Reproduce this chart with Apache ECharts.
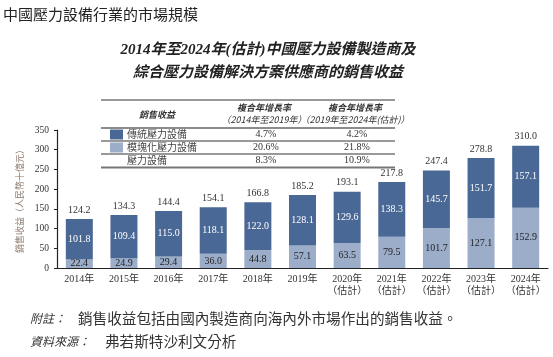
<!DOCTYPE html>
<html><head><meta charset="utf-8">
<script src="https://cdn.jsdelivr.net/npm/echarts@6/dist/echarts.min.js"></script>
<style>html,body{margin:0;padding:0;background:#fff}#c{width:553px;height:357px}</style>
</head><body><div id="c"></div>
<script>
const categories = ['2014年','2015年','2016年','2017年','2018年','2019年','2020年\n（估計）','2021年\n（估計）','2022年\n（估計）','2023年\n（估計）','2024年\n（估計）'];
const modular = [22.4,24.9,29.4,36.0,44.8,57.1,63.5,79.5,101.7,127.1,152.9];
const traditional = [101.8,109.4,115.0,118.1,122.0,128.1,129.6,138.3,145.7,151.7,157.1];
const totals = [124.2,134.3,144.4,154.1,166.8,185.2,193.1,217.8,247.4,278.8,310.0];
const yTicks = {min:0, max:350, interval:50};
const tableHead = ['銷售收益','複合年增長率','（2014年至2019年）','複合年增長率','（2019年至2024年(估計)）'];
const rowNames = ['傳統壓力設備','模塊化壓力設備','壓力設備'];
const cagr1419 = ['4.7%','20.6%','8.3%'];
const cagr1924 = ['4.2%','21.8%','10.9%'];

const DARK = '#4a6896', LIGHT = '#9cadca';
const SERIF = '"Liberation Serif","Noto Sans CJK TC",serif';
const CJK = '"Noto Sans CJK TC",sans-serif';

const chart = echarts.init(document.getElementById('c'), null, {renderer:'canvas'});

const g = [];
g.push({type:'text', left:3, top:7, style:{text:'中國壓力設備行業的市場規模', font:'15px '+CJK, fill:'#222'}});
g.push({type:'text', x:268, y:50, style:{text:'2014年至2024年(估計)中國壓力設備製造商及', font:'italic bold 15px '+SERIF, fill:'#222', align:'center', verticalAlign:'middle'}});
g.push({type:'text', x:268, y:73, style:{text:'綜合壓力設備解決方案供應商的銷售收益', font:'italic bold 15px '+SERIF, fill:'#222', align:'center', verticalAlign:'middle'}});
const tl = 101, tr = 395;
[[100,1,'#333'],[128,1.5,'#666'],[141,1.5,'#777'],[154,1.5,'#777'],[167.5,2,'#777']].forEach(([y,w,c])=>{
  g.push({type:'line', shape:{x1:tl,y1:y,x2:tr,y2:y}, style:{stroke:c, lineWidth:w}});
});
g.push({type:'text', x:157, y:115, style:{text:tableHead[0], font:'italic bold 9px '+CJK, fill:'#333', align:'center', verticalAlign:'middle'}});
g.push({type:'text', x:264, y:108, style:{text:tableHead[1], font:'italic bold 9px '+CJK, fill:'#333', align:'center', verticalAlign:'middle'}});
g.push({type:'text', x:264, y:120, style:{text:tableHead[2], font:'italic 9px '+CJK, fill:'#333', align:'center', verticalAlign:'middle'}});
g.push({type:'text', x:355, y:108, style:{text:tableHead[3], font:'italic bold 9px '+CJK, fill:'#333', align:'center', verticalAlign:'middle'}});
g.push({type:'text', x:355, y:120, style:{text:tableHead[4], font:'italic 9px '+CJK, fill:'#333', align:'center', verticalAlign:'middle'}});
const rowY = [134.5,147.5,160.5];
const swatch = [DARK, LIGHT, null];
rowNames.forEach((n,i)=>{
  if (swatch[i]) g.push({type:'rect', shape:{x:110,y:rowY[i]-5,width:13,height:10}, style:{fill:swatch[i]}});
  g.push({type:'text', x:127, y:rowY[i], style:{text:n, font:'10px '+CJK, fill:'#444', verticalAlign:'middle'}});
  g.push({type:'text', x:266, y:rowY[i], style:{text:cagr1419[i], font:'10px '+SERIF, fill:'#333', align:'center', verticalAlign:'middle'}});
  g.push({type:'text', x:357, y:rowY[i], style:{text:cagr1924[i], font:'10px '+SERIF, fill:'#333', align:'center', verticalAlign:'middle'}});
});
g.push({type:'text', x:30, y:318, style:{text:'附註：', font:'italic 12px '+CJK, fill:'#333', verticalAlign:'middle'}});
g.push({type:'text', x:78, y:318, style:{text:'銷售收益包括由國內製造商向海內外市場作出的銷售收益。', font:'14.6px '+CJK, fill:'#333', verticalAlign:'middle'}});
g.push({type:'text', x:30, y:341, style:{text:'資料來源：', font:'italic 12px '+CJK, fill:'#333', verticalAlign:'middle'}});
g.push({type:'text', x:105, y:341, style:{text:'弗若斯特沙利文分析', font:'14.6px '+CJK, fill:'#333', verticalAlign:'middle'}});

chart.setOption({
  animation:false,
  grid:{left:57, right:5, top:130, bottom:89, containLabel:false},
  xAxis:{type:'category', data:categories,
    axisLine:{lineStyle:{color:'#222', width:1.2}}, axisTick:{show:false},
    axisLabel:{color:'#333', fontSize:10, fontFamily:SERIF, lineHeight:12, margin:5, interval:0}},
  yAxis:{type:'value', min:yTicks.min, max:yTicks.max, interval:yTicks.interval,
    name:'銷售收益（人民幣十億元）', nameLocation:'middle', nameGap:31,
    nameTextStyle:{color:'#8c7a6c', fontSize:9, fontFamily:CJK},
    axisLine:{show:true, lineStyle:{color:'#222', width:1.2}},
    axisTick:{show:true, length:3, lineStyle:{color:'#222'}},
    splitLine:{show:false},
    axisLabel:{color:'#333', fontSize:9.5, fontFamily:SERIF, margin:8}},
  series:[
    {type:'bar', stack:'a', data:modular, barWidth:27, itemStyle:{color:LIGHT},
      label:{show:true, position:'inside', color:'#222', fontSize:10, fontFamily:SERIF, formatter:p=>p.value.toFixed(1)}},
    {type:'bar', stack:'a', data:traditional, barWidth:27, itemStyle:{color:DARK},
      label:{show:true, position:'inside', color:'#fff', fontSize:10, fontFamily:SERIF, formatter:p=>p.value.toFixed(1)}},
    {type:'bar', stack:'a', data:totals.map(()=>0), barWidth:27, itemStyle:{color:'transparent'},
      label:{show:true, position:'top', distance:4, color:'#333', fontSize:10, fontFamily:SERIF, formatter:p=>totals[p.dataIndex].toFixed(1)}}
  ],
  graphic:g
});
</script></body></html>
